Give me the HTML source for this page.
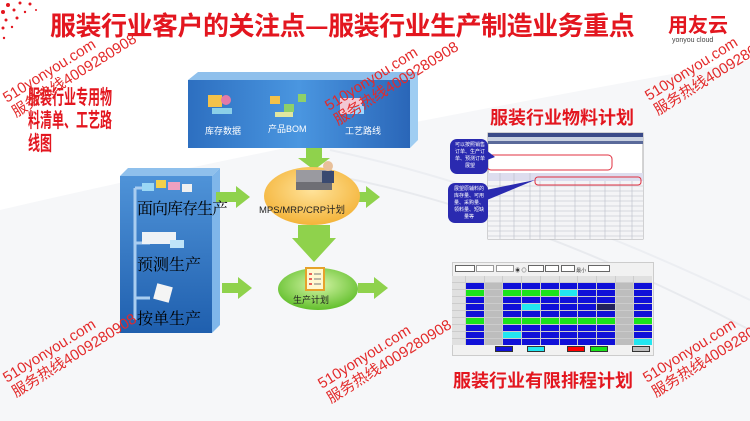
<!DOCTYPE html>
<html><head><meta charset="utf-8"><style>
*{margin:0;padding:0;box-sizing:border-box}
body{width:750px;height:421px;overflow:hidden;position:relative;background:#fff;font-family:"Liberation Sans","Noto Sans CJK SC",sans-serif}
.a{position:absolute}
.red{color:#e3161f;font-weight:bold;font-family:"Noto Sans CJK SC","WenQuanYi Zen Hei",sans-serif}
.wm{position:absolute;color:#e32a2a;font-size:15px;line-height:17px;transform:rotate(-32deg);transform-origin:left top;white-space:nowrap;font-family:"Liberation Sans","Noto Sans CJK SC",sans-serif}
.grid{display:grid;grid-template-columns:13px repeat(10,1fr);grid-auto-rows:6px;gap:1px 1px;background:#ccc}
.grid div{background:#1010d8}
.g{background:#1be31b!important}.c{background:#22e6f0!important}.x{background:#bdbdbd!important}.k{background:#22225a!important}.h{background:#e0e0e0!important}
.lt{position:absolute;left:28px;font-size:20px;line-height:22px;white-space:nowrap;transform:scaleX(0.6);transform-origin:left top}
</style></head><body>
<svg class="a" style="left:0;top:0" width="750" height="421">
<defs>
<linearGradient id="bl" x1="0" y1="0" x2="0" y2="1"><stop offset="0" stop-color="#4f93d8"/><stop offset="1" stop-color="#1f5fae"/></linearGradient>
<linearGradient id="bl2" x1="0" y1="0" x2="1" y2="0"><stop offset="0" stop-color="#2d6fc0"/><stop offset=".5" stop-color="#4a96e0"/><stop offset="1" stop-color="#2a66b8"/></linearGradient>
<radialGradient id="or" cx=".5" cy=".4" r=".6"><stop offset="0" stop-color="#ffe39a"/><stop offset="1" stop-color="#f4b43a"/></radialGradient>
<radialGradient id="gr" cx=".5" cy=".4" r=".6"><stop offset="0" stop-color="#d6f5a8"/><stop offset="1" stop-color="#62bf2c"/></radialGradient>
</defs>
<path d="M0 210 Q300 140 750 60 L750 421 L0 421Z" fill="#f6f7f9"/>
<path d="M300 170 Q500 200 750 330" stroke="#e8eaee" stroke-width="2" fill="none"/>
<path d="M330 150 Q520 190 750 300" stroke="#eceef2" stroke-width="2" fill="none"/>
<g fill="#e3161f"><circle cx="8" cy="5" r="2"/><circle cx="3" cy="12" r="2"/><circle cx="14" cy="10" r="1.5"/><circle cx="20" cy="3" r="1.5"/><circle cx="6" cy="20" r="1.5"/><circle cx="30" cy="4" r="1.5"/><circle cx="3" cy="28" r="1.5"/><circle cx="17" cy="18" r="1.5"/><circle cx="12" cy="27" r="1.2"/><circle cx="25" cy="12" r="1.2"/><circle cx="4" cy="38" r="1.2"/><circle cx="36" cy="10" r="1"/></g>
<path d="M188 80 L198 72 L418 72 L410 80Z" fill="#8fc0ec"/>
<path d="M410 80 L418 72 L418 140 L410 148Z" fill="#9fcdf2"/>
<rect x="188" y="80" width="222" height="68" fill="url(#bl2)"/>
<g fill="#f3c24a"><rect x="208" y="95" width="14" height="12"/></g><g fill="#e37aa8"><circle cx="226" cy="100" r="5"/></g><rect x="212" y="108" width="20" height="6" fill="#8bd0e8"/>
<rect x="270" y="96" width="10" height="8" fill="#f3c24a"/><rect x="284" y="104" width="10" height="8" fill="#8ed06a"/><rect x="298" y="94" width="8" height="8" fill="#8ed06a"/><rect x="275" y="112" width="18" height="5" fill="#e0e6a0"/>
<rect x="340" y="98" width="22" height="16" fill="#f2c8d4"/><rect x="352" y="106" width="12" height="8" fill="#9fd8ff"/>
<path d="M120 176 L128 168 L220 168 L212 176Z" fill="#8fc0ec"/>
<path d="M212 176 L220 168 L220 325 L212 333Z" fill="#7fb6ea"/>
<rect x="120" y="176" width="92" height="157" fill="url(#bl)"/>
<path d="M135 188 V320" stroke="#a9cdf0" stroke-width="3" fill="none"/>
<path d="M135 188 H150 M135 243 H150 M135 298 H150" stroke="#a9cdf0" stroke-width="3"/>
<rect x="142" y="183" width="12" height="8" fill="#9ad7f5"/><rect x="156" y="180" width="10" height="8" fill="#f4d04a"/><rect x="168" y="182" width="12" height="8" fill="#f0a0c0"/><rect x="182" y="184" width="10" height="8" fill="#f0f0f0"/>
<rect x="142" y="232" width="34" height="12" fill="#eef2f6"/><rect x="170" y="240" width="14" height="8" fill="#bfe4f8"/>
<rect x="155" y="285" width="16" height="16" fill="#f4f4f4" transform="rotate(15 163 293)"/>
<g fill="#8fd24c">
<path d="M216 192 L236 192 L236 186 L250 197 L236 208 L236 202 L216 202Z"/>
<path d="M350 192 L366 192 L366 186 L380 197 L366 208 L366 202 L350 202Z"/>
<path d="M222 283 L238 283 L238 277 L252 288 L238 299 L238 293 L222 293Z"/>
<path d="M358 283 L374 283 L374 277 L388 288 L374 299 L374 293 L358 293Z"/>
<path d="M306 148 L322 148 L322 158 L330 158 L314 170 L298 158 L306 158Z"/>
<path d="M298 225 L330 225 L330 238 L336 238 L314 262 L292 238 L298 238Z"/>
</g>
<ellipse cx="312" cy="196" rx="48" ry="29" fill="url(#or)"/>
<rect x="296" y="170" width="36" height="18" fill="#9a9aa0"/><rect x="296" y="182" width="36" height="8" fill="#6e6e74"/><circle cx="328" cy="166" r="5" fill="#e8c09a"/><rect x="322" y="171" width="12" height="12" fill="#3a4a70"/>
<ellipse cx="318" cy="289" rx="40" ry="21" fill="url(#gr)"/>
<rect x="306" y="268" width="18" height="22" fill="#fff8d0" stroke="#e6a22a" stroke-width="2"/>
<g stroke="#e03030" stroke-width="1.5"><path d="M309 274h3M309 279h3M309 284h3"/></g><g stroke="#777"><path d="M314 274h7M314 279h7M314 284h7"/></g>
<rect x="488" y="133" width="155" height="106" fill="#fff" stroke="#aaa"/>
<rect x="488" y="133" width="155" height="4" fill="#3a4a88"/>
<rect x="488" y="137" width="155" height="4" fill="#c8d0e0"/>
<rect x="488" y="141" width="155" height="3" fill="#5a6a9a"/>
<rect x="488" y="173" width="155" height="8" fill="#dde"/>
<rect x="488" y="181" width="155" height="58" fill="#f4f4f6"/>
<g stroke="#b8bcc8" stroke-width=".6">
<path d="M488 186H643M488 191H643M488 196H643M488 201H643M488 206H643M488 211H643M488 216H643M488 221H643M488 226H643M488 231H643M488 236H643"/>
<path d="M500 173V239M514 173V239M530 173V239M540 181V239M555 181V239M575 181V239M590 181V239M605 181V239M620 181V239M632 181V239"/></g>
<rect x="487" y="155" width="125" height="15" rx="4" fill="none" stroke="#e03040"/>
<rect x="535" y="177" width="106" height="8" rx="3" fill="none" stroke="#e03040"/>
<rect x="450" y="139" width="38" height="35" rx="7" fill="#2a2ab0"/>
<path d="M486 150 L495 157 L487 160Z" fill="#2a2ab0"/>
<rect x="448" y="183" width="40" height="40" rx="7" fill="#2a2ab0"/>
<path d="M486 190 L535 180 L487 200Z" fill="#2a2ab0"/>
</svg>
<div class="a" style="left:453px;top:142px;width:34px;font-size:5px;line-height:7px;color:#fff;text-align:center">可以按照销售订单、生产订单、预测订单展望</div>
<div class="a" style="left:452px;top:186px;width:34px;font-size:5px;line-height:7px;color:#fff;text-align:center">展望原辅料的库存量、可用量、采购量、领料量、短缺量等</div>

<div class="a red" style="left:50px;top:8px;font-size:26px;line-height:34px;letter-spacing:-0.5px">服装行业客户的关注点—服装行业生产制造业务重点</div>
<div class="a" style="left:668px;top:11px;font-size:20px;font-weight:bold;color:#e3161f;font-family:'Noto Sans CJK SC',sans-serif;line-height:26px">用友云</div>
<div class="a" style="left:672px;top:37px;font-size:7px;color:#444">yonyou cloud</div>
<div class="lt red" style="top:85px">服装行业专用物</div>
<div class="lt red" style="top:108px">料清单、工艺路</div>
<div class="lt red" style="top:131px">线图</div>

<div class="a" style="left:205px;top:124px;font-size:9px;color:#fff;font-family:'Noto Sans CJK SC',sans-serif">库存数据</div>
<div class="a" style="left:268px;top:122px;font-size:9px;color:#fff;font-family:'Liberation Sans','Noto Sans CJK SC',sans-serif">产品BOM</div>
<div class="a" style="left:345px;top:124px;font-size:9px;color:#fff;font-family:'Noto Sans CJK SC',sans-serif">工艺路线</div>

<div class="a" style="left:137px;top:196px;font-size:16px;color:#000;font-family:'Noto Serif CJK SC',serif;letter-spacing:-1px">面向库存生产</div>
<div class="a" style="left:137px;top:252px;font-size:16px;color:#000;font-family:'Noto Serif CJK SC',serif">预测生产</div>
<div class="a" style="left:137px;top:306px;font-size:16px;color:#000;font-family:'Noto Serif CJK SC',serif">按单生产</div>
<div class="a" style="left:259px;top:202px;font-size:9.5px;color:#222">MPS/MRP/CRP计划</div>
<div class="a" style="left:293px;top:293px;font-size:9px;color:#222;font-family:'Noto Sans CJK SC',sans-serif">生产计划</div>

<div class="a red" style="left:490px;top:105px;font-size:18px;line-height:24px">服装行业物料计划</div>
<div class="a red" style="left:453px;top:368px;font-size:18px;line-height:24px">服装行业有限排程计划</div>

<div class="a" style="left:452px;top:262px;width:202px;height:94px;background:#f1f1f1;border:1px solid #ccc"></div>
<div class="a" style="left:455px;top:265px;width:198px;height:8px;font-size:5px;color:#333;white-space:nowrap">
<span style="display:inline-block;width:20px;height:7px;border:1px solid #666;background:#fff"></span>
<span style="display:inline-block;width:18px;height:7px;border:1px solid #999;background:#fff"></span>
<span style="display:inline-block;width:18px;height:7px;border:1px solid #999;background:#fff"></span> ◉ ◎
<span style="display:inline-block;width:16px;height:7px;border:1px solid #666;background:#fff"></span>
<span style="display:inline-block;width:14px;height:7px;border:1px solid #666;background:#fff"></span>
<span style="display:inline-block;width:14px;height:7px;border:1px solid #666;background:#fff"></span> 最小 
<span style="display:inline-block;width:22px;height:7px;border:1px solid #666;background:#fff"></span></div>
<div class="a grid" style="left:452px;top:276px;width:200px">
<div class="h"></div><div class="h"></div><div class="h"></div><div class="h"></div><div class="h"></div><div class="h"></div><div class="h"></div><div class="h"></div><div class="h"></div><div class="h"></div><div class="h"></div>
<div class="h"></div><div></div><div class="x"></div><div></div><div></div><div></div><div></div><div></div><div></div><div class="x"></div><div></div>
<div class="h"></div><div class="g"></div><div class="x"></div><div class="g"></div><div class="g"></div><div class="g"></div><div class="c"></div><div></div><div></div><div class="x"></div><div></div>
<div class="h"></div><div></div><div class="x"></div><div></div><div></div><div></div><div></div><div></div><div></div><div class="x"></div><div></div>
<div class="h"></div><div></div><div class="x"></div><div></div><div class="c"></div><div></div><div></div><div></div><div class="k"></div><div class="x"></div><div></div>
<div class="h"></div><div></div><div class="x"></div><div></div><div></div><div></div><div></div><div></div><div></div><div class="x"></div><div></div>
<div class="h"></div><div class="g"></div><div class="x"></div><div class="g"></div><div class="g"></div><div class="g"></div><div class="g"></div><div class="g"></div><div class="g"></div><div class="x"></div><div class="g"></div>
<div class="h"></div><div></div><div class="x"></div><div></div><div></div><div></div><div></div><div></div><div></div><div class="x"></div><div></div>
<div class="h"></div><div></div><div class="x"></div><div class="c"></div><div></div><div></div><div></div><div></div><div></div><div class="x"></div><div></div>
<div class="h"></div><div></div><div class="x"></div><div></div><div></div><div></div><div></div><div></div><div></div><div class="x"></div><div class="c"></div>
</div>
<div class="a" style="left:495px;top:346px;width:18px;height:6px;background:#1010d8;border:1px solid #333"></div>
<div class="a" style="left:527px;top:346px;width:18px;height:6px;background:#22e6f0;border:1px solid #333"></div>
<div class="a" style="left:567px;top:346px;width:18px;height:6px;background:#f00;border:1px solid #333"></div>
<div class="a" style="left:590px;top:346px;width:18px;height:6px;background:#1be31b;border:1px solid #333"></div>
<div class="a" style="left:632px;top:346px;width:18px;height:6px;background:#bdbdbd;border:1px solid #333"></div>

<div class="wm" style="left:0px;top:92px">510yonyou.com<br>服务热线4009280908</div>
<div class="wm" style="left:322px;top:100px">510yonyou.com<br>服务热线4009280908</div>
<div class="wm" style="left:642px;top:90px">510yonyou.com<br>服务热线4009280908</div>
<div class="wm" style="left:0px;top:372px">510yonyou.com<br>服务热线4009280908</div>
<div class="wm" style="left:315px;top:378px">510yonyou.com<br>服务热线4009280908</div>
<div class="wm" style="left:640px;top:372px">510yonyou.com<br>服务热线4009280908</div>
</body></html>
